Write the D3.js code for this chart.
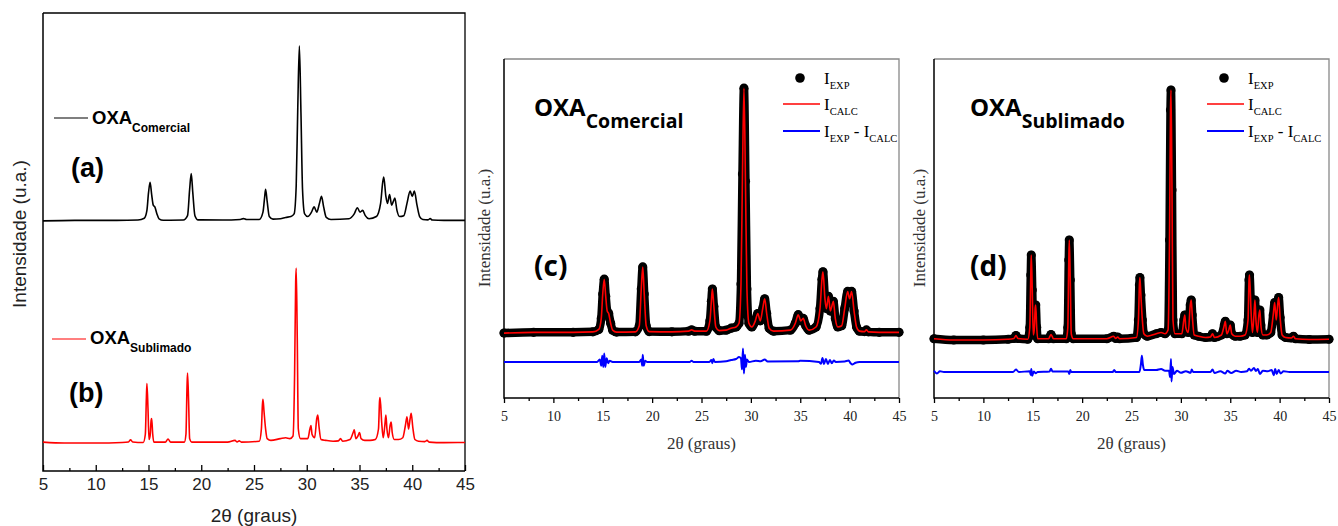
<!DOCTYPE html>
<html>
<head>
<meta charset="utf-8">
<script src="https://cdn.jsdelivr.net/npm/d3@7"></script>
<style>
  body { margin: 0; background: #fff; }
</style>
</head>
<body>
<svg id="chart" width="1338" height="526"></svg>
<script>
// ---- data (2theta in degrees, intensity in % of the strongest peak) ----
const comercialTheta = [5, 8, 12, 14, 14.6, 14.85, 15.0, 15.15, 15.3, 15.45, 15.6, 15.8, 16.0, 16.4, 18.3, 18.7, 18.9, 19.05, 19.2, 19.4, 19.7, 22, 23.7, 24.0, 24.3, 25.5, 25.85, 26.0, 26.1, 26.25, 26.45, 26.8, 27.5, 28.0, 28.5, 28.8, 29.0, 29.15, 29.3, 29.45, 29.6, 29.8, 30.1, 30.45, 30.7, 30.95, 31.2, 31.4, 31.6, 31.85, 32.3, 34.0, 34.5, 34.8, 35.05, 35.3, 35.55, 35.9, 36.6, 37.0, 37.2, 37.3, 37.5, 37.65, 37.85, 38.05, 38.2, 38.35, 38.55, 38.8, 39.2, 39.5, 39.8, 40.0, 40.2, 40.45, 40.7, 41.0, 41.5, 41.7, 41.9, 43, 45];
const comercialInt = [0, 0.3, 0.3, 0.5, 1.5, 6, 16, 22, 15, 9, 8, 4, 1.2, 0.4, 0.5, 3, 18, 27, 16, 3, 0.6, 0.5, 0.8, 1.3, 0.8, 0.8, 5, 13, 18, 11, 2.5, 1, 1.2, 2, 2.5, 4, 20, 65, 100, 62, 18, 4, 2.5, 5, 8, 5, 10, 14, 8, 2, 0.8, 1.2, 4, 7.5, 5, 6, 3, 1.2, 2.5, 10, 22, 25, 14, 10, 15, 9, 11, 13, 6, 2.5, 3, 10, 17, 14, 17, 9, 2.5, 0.8, 0.6, 1.3, 0.5, 0.3, 0.3];

const sublimadoTheta = [5, 7, 10, 12.5, 13.1, 13.3, 13.5, 14.5, 14.7, 14.8, 14.85, 14.95, 15.05, 15.15, 15.25, 15.3, 15.4, 15.5, 16.6, 16.85, 17.1, 18.4, 18.55, 18.65, 18.7, 18.8, 18.9, 19.1, 22.5, 23.2, 23.4, 23.6, 23.8, 25.5, 25.7, 25.8, 25.85, 25.95, 26.1, 26.25, 26.6, 27.5, 28.0, 28.4, 28.7, 28.85, 28.95, 29.0, 29.1, 29.2, 29.4, 30.1, 30.3, 30.4, 30.5, 30.75, 30.95, 31.05, 31.15, 31.35, 31.8, 32.5, 33.0, 33.2, 33.4, 34.1, 34.4, 34.5, 34.65, 34.85, 35.0, 35.15, 35.5, 36.0, 36.5, 36.8, 36.9, 36.95, 37.1, 37.25, 37.4, 37.5, 37.6, 37.75, 37.9, 38.0, 38.1, 38.3, 38.7, 39.1, 39.35, 39.5, 39.65, 39.8, 39.9, 40.05, 40.25, 40.6, 41.2, 41.4, 41.6, 43, 45];
const sublimadoInt = [0.5, 0, 0, 0.3, 0.6, 1.8, 0.6, 0.3, 5, 26, 34, 20, 2, 4, 13, 14, 5, 0.5, 0.5, 2.2, 0.5, 0.5, 5, 32, 40, 24, 2.5, 0.5, 0.5, 1.5, 0.6, 1.2, 0.5, 1, 8, 22, 25, 18, 8, 2.5, 1.5, 2.5, 3, 2.5, 4, 40, 92, 100, 60, 8, 2.5, 2.5, 8, 10, 5, 3, 14, 16, 10, 2, 1.5, 1, 1.2, 2.5, 1, 2, 6, 7.5, 2.5, 4, 6, 2.5, 1.5, 1.5, 2, 8, 24, 26, 12, 3, 10, 16, 8, 3, 10, 12, 6, 2, 2, 3, 10, 15, 8, 14, 17, 9, 2, 1, 0.8, 1.5, 0.5, 0.2, 0.3];

const residComTheta = [5, 14.4, 14.7, 14.85, 14.95, 15.05, 15.15, 15.25, 15.4, 15.55, 15.7, 16.0, 18.7, 18.9, 19.0, 19.05, 19.15, 19.3, 19.5, 23.8, 24.0, 24.2, 25.8, 26.0, 26.1, 26.2, 26.35, 27.5, 28.0, 28.5, 28.8, 29.0, 29.1, 29.2, 29.3, 29.4, 29.5, 29.6, 29.8, 30.5, 31.0, 31.4, 31.7, 34.8, 35.0, 36.9, 37.1, 37.25, 37.4, 37.6, 37.8, 38.0, 38.2, 38.4, 38.6, 39.5, 39.9, 40.1, 40.3, 40.6, 41, 45];
const residComVal = [0, 0, 1, -1.5, 2.5, -2, 3.5, -2, 1.5, -0.5, 0.5, 0, 0, 1, -1.5, 3, -1.5, 0.5, 0, 0, 0.5, 0, 0, 0.8, -0.5, 1.2, 0, 0.3, 0.8, 1.2, 2, 1.5, -3, 5.5, -4.7, 3, -2, 1, 0, 0.5, 0.3, 1, 0.2, 0.3, 0.5, 0, -0.7, 1.6, -0.8, 1.2, -0.8, 0.8, -0.5, 0.6, 0, 0.2, 0.6, -0.5, -1, -0.3, 0, 0];

const residSubTheta = [5, 5.3, 5.6, 6, 13.0, 13.3, 13.6, 14.7, 14.8, 14.85, 14.95, 15.1, 15.3, 15.5, 16.7, 16.85, 17.0, 18.6, 18.7, 18.8, 18.9, 23.1, 23.25, 23.4, 25.8, 25.95, 26.05, 26.15, 26.3, 27.5, 28.0, 28.4, 28.8, 28.9, 29.0, 29.05, 29.15, 29.3, 29.6, 30.0, 30.5, 31.0, 31.1, 31.25, 33.0, 33.2, 33.4, 34.0, 34.5, 34.7, 35.1, 35.6, 36.1, 36.7, 36.9, 37.1, 37.4, 37.6, 37.8, 38.0, 38.3, 38.8, 39.2, 39.4, 39.55, 39.7, 39.9, 40.1, 40.4, 41, 45];
const residSubVal = [0.5, -0.6, 0.3, 0, 0, 1, 0, 0.3, -1.2, 1.2, -1.5, 0.2, -0.5, 0, 0.2, 1.3, 0.2, 0.2, -0.8, 0.8, 0, 0, 0.8, 0, 0, 3, 6.5, 3, 0.8, 0.8, 1.2, 0.5, 0.5, -2, 5.2, -3.8, 2, -0.8, 0.5, -0.3, 0.3, -0.3, 1, 0, 0, 1, -0.4, 0.3, -0.6, 0.5, -0.4, 0.5, 0, 0.3, 1.3, 0.5, 1.6, 0.4, 1.2, -0.8, 0.5, 0.3, 0.8, -1.3, 1.2, -0.8, 0.8, -0.6, 0.3, 0, 0];

const majorTicks = [5, 10, 15, 20, 25, 30, 35, 40, 45];
const minorTicks = [7.5, 12.5, 17.5, 22.5, 27.5, 32.5, 37.5, 42.5];

const zip = (xs, ys) => xs.map((x, i) => [x, ys[i]]);
const comercial = zip(comercialTheta, comercialInt);
const sublimado = zip(sublimadoTheta, sublimadoInt);
const residCom = zip(residComTheta, residComVal);
const residSub = zip(residSubTheta, residSubVal);

const svg = d3.select("#chart");

// text with subscripts: parts = [[string, isSub], ...]
function richText(g, x, y, parts, cfg) {
  const t = g.append("text")
    .attr("x", x).attr("y", y)
    .attr("font-family", cfg.family)
    .attr("font-weight", cfg.weight || "normal")
    .attr("fill", cfg.fill || "#000")
    .attr("xml:space", "preserve");
  let cur = 0;
  parts.forEach(([s, isSub]) => {
    const target = isSub ? cfg.shift : 0;
    t.append("tspan")
      .attr("dy", target - cur)
      .attr("font-size", isSub ? cfg.subSize : cfg.size)
      .text(s);
    cur = target;
  });
  return t;
}

function drawFrame(p) {
  const g = svg.append("g");
  const x = d3.scaleLinear().domain([5, 45]).range([p.left, p.right]);
  const y = d3.scaleLinear().domain([0, p.ymax]).range([p.bottom, p.top]);

  // box: top/right, then left/bottom on top
  g.append("path")
    .attr("d", `M${p.left},${p.top}H${p.right}V${p.bottom}`)
    .attr("fill", "none").attr("stroke", p.boxColor).attr("stroke-width", 1.3);
  g.append("path")
    .attr("d", `M${p.left},${p.top}V${p.bottom}H${p.right}`)
    .attr("fill", "none").attr("stroke", "#000").attr("stroke-width", 1.5);

  const dir = p.inward ? -1 : 1;
  const major = g.append("g")
    .attr("transform", `translate(0,${p.bottom})`)
    .call(d3.axisBottom(x).tickValues(majorTicks).tickSize(p.major * dir)
      .tickPadding(p.pad).tickFormat(d3.format("d")));
  const minor = g.append("g")
    .attr("transform", `translate(0,${p.bottom})`)
    .call(d3.axisBottom(x).tickValues(minorTicks).tickSize(p.minor * dir).tickFormat(""));
  [major, minor].forEach(a => {
    a.select(".domain").remove();
    a.selectAll("line").attr("stroke", "#000").attr("stroke-width", 1.3);
  });
  major.selectAll("text")
    .attr("font-family", p.family)
    .attr("font-size", p.tickSize)
    .attr("fill", p.tickColor);

  g.append("text")
    .attr("x", (p.left + p.right) / 2).attr("y", p.xlabelY)
    .attr("text-anchor", "middle")
    .attr("font-family", p.family).attr("font-size", p.labelSize)
    .attr("fill", p.labelColor)
    .text("2θ (graus)");
  g.append("text")
    .attr("transform", `translate(${p.ylabelX},${p.ylabelY}) rotate(-90)`)
    .attr("text-anchor", "middle")
    .attr("font-family", p.family).attr("font-size", p.labelSize)
    .attr("fill", p.labelColor)
    .text("Intensidade (u.a.)");
  return { g, x, y };
}

// ---------- panel (a)/(b) ----------
{
  const p = {
    left: 43, right: 465, top: 13, bottom: 471, ymax: 261.7,
    boxColor: "#000", inward: true, major: 6, minor: 3, pad: 7,
    family: "'Liberation Sans', Arial, sans-serif", tickSize: 17, tickColor: "#222",
    labelSize: 19, labelColor: "#222", xlabelY: 522, ylabelX: 26, ylabelY: 234
  };
  const { g, x, y } = drawFrame(p);
  const offCom = 142.9, offSub = 16;
  const lineCom = d3.line().x(d => x(d[0])).y(d => y(d[1] + offCom)).curve(d3.curveMonotoneX);
  const lineSub = d3.line().x(d => x(d[0])).y(d => y(d[1] + offSub)).curve(d3.curveMonotoneX);
  g.append("path").datum(comercial).attr("d", lineCom)
    .attr("fill", "none").attr("stroke", "#000").attr("stroke-width", 1.6);
  g.append("path").datum(sublimado).attr("d", lineSub)
    .attr("fill", "none").attr("stroke", "#f00").attr("stroke-width", 1.6);

  const fam = "'Liberation Sans', Arial, sans-serif";
  g.append("line").attr("x1", 54).attr("x2", 88).attr("y1", 118).attr("y2", 118)
    .attr("stroke", "#000").attr("stroke-width", 1.2);
  richText(g, 92, 124, [["OXA", false], ["Comercial", true]],
    { family: fam, weight: "bold", size: 18.5, subSize: 12, shift: 8 });
  g.append("line").attr("x1", 52).attr("x2", 86).attr("y1", 339).attr("y2", 339)
    .attr("stroke", "#f00").attr("stroke-width", 1.2);
  richText(g, 90, 344, [["OXA", false], ["Sublimado", true]],
    { family: fam, weight: "bold", size: 18.5, subSize: 12, shift: 8 });
  g.append("text").attr("x", 71).attr("y", 177).attr("font-family", fam)
    .attr("font-weight", "bold").attr("font-size", 27).text("(a)");
  g.append("text").attr("x", 69).attr("y", 402).attr("font-family", fam)
    .attr("font-weight", "bold").attr("font-size", 27).text("(b)");
}

// ---------- refinement panels (c) and (d) ----------
function drawRefinement(p, data, resid, name, tag) {
  const { g, x, y } = drawFrame(p);
  const line = d3.line().x(d => x(d[0])).y(d => y(d[1] + p.offExp)).curve(d3.curveMonotoneX);
  const rline = d3.line().x(d => x(d[0])).y(d => y(d[1] + p.offRes)).curve(d3.curveMonotoneX);

  // I_EXP : dense black markers
  g.append("path").datum(data).attr("d", line)
    .attr("fill", "none").attr("stroke", "#000").attr("stroke-width", 8.5)
    .attr("stroke-linejoin", "round").attr("stroke-linecap", "round");
  g.append("g").selectAll("circle").data(data).join("circle")
    .attr("cx", d => x(d[0])).attr("cy", d => y(d[1] + p.offExp)).attr("r", 4.6)
    .attr("fill", "#000");
  // I_CALC
  g.append("path").datum(data).attr("d", line)
    .attr("fill", "none").attr("stroke", "#f00").attr("stroke-width", 1.6);
  // difference
  g.append("path").datum(resid).attr("d", rline)
    .attr("fill", "none").attr("stroke", "#00f").attr("stroke-width", 2);

  // legend
  const serif = "'Liberation Serif', 'Times New Roman', serif";
  const lc = { family: serif, size: 17, subSize: 10.5, shift: 5 };
  g.append("circle").attr("cx", p.legX + 17).attr("cy", 78).attr("r", 4.8).attr("fill", "#000");
  richText(g, p.legX + 41, 84, [["I", false], ["EXP", true]], lc);
  g.append("line").attr("x1", p.legX).attr("x2", p.legX + 37).attr("y1", 104).attr("y2", 104)
    .attr("stroke", "#f00").attr("stroke-width", 1.6);
  richText(g, p.legX + 41, 110, [["I", false], ["CALC", true]], lc);
  g.append("line").attr("x1", p.legX).attr("x2", p.legX + 37).attr("y1", 131).attr("y2", 131)
    .attr("stroke", "#00f").attr("stroke-width", 2);
  richText(g, p.legX + 41, 137, [["I", false], ["EXP", true], [" - I", false], ["CALC", true]], lc);

  const sans = "'Open Sans', 'Noto Sans', sans-serif";
  richText(g, p.nameX, 116, [["OXA", false], [name, true]],
    { family: sans, weight: "bold", size: 24, subSize: 19.5, shift: 12 });
  g.append("text").attr("x", p.nameX).attr("y", 276).attr("font-family", sans)
    .attr("font-weight", "bold").attr("font-size", 28).text(tag);
}

const refinementBase = {
  top: 59, bottom: 398, boxColor: "#888", inward: false, major: 5, minor: 3, pad: 8,
  family: "'Liberation Serif', 'Times New Roman', serif", tickSize: 14, tickColor: "#222",
  labelSize: 17, labelColor: "#333", xlabelY: 449, ylabelY: 228
};

drawRefinement(Object.assign({}, refinementBase, {
  left: 504, right: 899, ymax: 138.4, offExp: 26.5, offRes: 14.7,
  ylabelX: 490, legX: 783, nameX: 534
}), comercial, residCom, "Comercial", "(c)");

drawRefinement(Object.assign({}, refinementBase, {
  left: 934, right: 1329, ymax: 135.6, offExp: 23.2, offRes: 10.4,
  ylabelX: 925, legX: 1207, nameX: 970
}), sublimado, residSub, "Sublimado", "(d)");
</script>
</body>
</html>
